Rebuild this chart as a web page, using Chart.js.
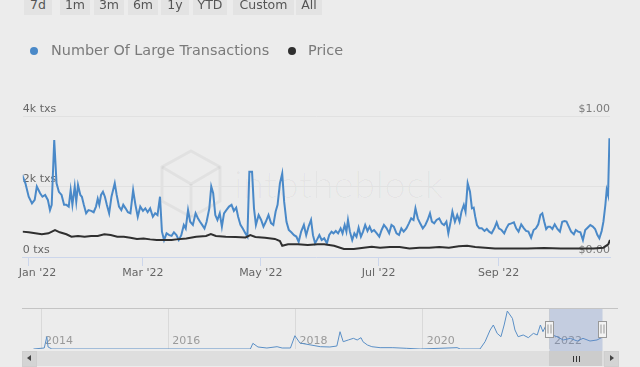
<!DOCTYPE html>
<html>
<head>
<meta charset="utf-8">
<script src="https://cdn.jsdelivr.net/npm/chart.js@4.4.1/dist/chart.umd.min.js"></script>
<style>
html,body{margin:0;padding:0;background:#ececec;width:640px;height:367px;overflow:hidden;font-family:"DejaVu Sans",sans-serif;}
#wrap{position:relative;width:640px;height:367px;}
canvas{position:absolute;left:0;}
#main{top:0;z-index:2;}
#nav{top:300px;z-index:2;}
.btn{position:absolute;top:-6px;height:21px;line-height:21px;background:#e3e3e3;color:#555;font-size:12.5px;text-align:center;z-index:3;}
.leg{position:absolute;top:41px;height:19px;line-height:19px;font-size:14.4px;color:#7a7a7a;white-space:nowrap;z-index:3;}
.dot{position:absolute;width:8px;height:8px;border-radius:50%;top:47px;z-index:3;}
#wm{position:absolute;left:234px;top:160px;font-family:Lato,"Open Sans",sans-serif;font-weight:300;font-size:38px;color:rgba(0,0,0,0.035);z-index:1;letter-spacing:0.5px;}
#logo{position:absolute;left:155px;top:148px;z-index:1;}
.sb{position:absolute;z-index:3;}
</style>
</head>
<body>
<div id="wrap">
  <svg id="logo" width="72" height="72" viewBox="0 0 72 72">
    <g fill="none" stroke="rgba(0,0,0,0.045)" stroke-width="3">
      <polygon points="36,3 65,19 65,53 36,69 7,53 7,19"/>
      <polyline points="7,19 36,36 65,19"/>
      <line x1="36" y1="36" x2="36" y2="69"/>
    </g>
  </svg>
  <div id="wm">intotheblock</div>
  <canvas id="main" width="640" height="300"></canvas>
  <canvas id="nav" width="640" height="67"></canvas>
</div>
<script>
// ---------- data ----------
const seriesNames = ['Number Of Large Transactions', 'Price'];
const rangeButtons = ['7d', '1m', '3m', '6m', '1y', 'YTD', 'Custom', 'All'];

// days since 1 Jan 2022
const txDays = [
  -3.4,-1.7,0.0,1.7,3.1,4.2,5.9,7.1,8.5,9.9,11.0,11.9,13.2,14.4,15.6,17.0,18.3,19.5,20.7,21.7,
  22.6,23.8,24.6,25.5,26.7,27.5,28.5,29.7,30.9,32.3,33.6,34.8,35.7,36.5,37.4,38.4,39.4,40.4,41.6,42.8,
  44.5,45.5,46.7,47.9,48.9,50.1,51.3,52.6,54.0,55.2,56.4,57.7,59.1,60.3,61.5,62.8,64.2,65.4,66.6,67.9,
  68.9,70.0,71.3,72.7,73.9,75.1,76.4,77.6,78.9,80.2,81.2,82.4,83.5,84.9,86.3,87.5,88.6,89.7,90.9,92.0,
  93.4,94.4,95.4,96.5,97.6,98.8,99.9,101.0,102.2,103.6,104.9,106.1,107.3,108.3,109.5,110.7,112.1,113.1,114.1,115.5,
  116.5,117.5,118.9,120.2,121.4,122.6,124.0,125.3,126.5,127.7,128.7,129.9,131.1,132.1,133.3,134.5,135.8,137.2,138.4,139.6,
  140.9,142.3,143.5,144.7,146.0,147.0,148.1,149.2,150.3,151.5,152.8,154.2,155.4,156.6,157.6,158.8,160.0,161.3,162.3,163.4,
  164.3,165.1,166.1,167.3,168.4,169.5,170.6,171.8,172.9,174.0,175.2,176.3,177.4,178.6,180.0,181.3,182.5,183.7,185.1,186.4,
  187.6,188.8,190.2,191.5,192.7,193.9,195.3,196.6,197.8,199.0,200.0,201.2,202.4,203.8,205.1,206.3,207.5,208.5,209.7,210.9,
  212.3,213.6,214.8,216.0,217.0,218.2,219.1,220.4,221.6,222.8,223.8,225.0,225.9,227.0,228.2,229.2,230.1,230.9,231.8,233.0,
  234.3,235.7,236.9,238.1,239.4,240.8,242.0,243.1,244.5,245.9,247.0,248.2,249.6,250.9,252.1,253.3,254.7,256.1,257.2,258.4,
  259.8,261.1,262.3,263.5,264.6,265.6,266.6,267.6,268.6,269.6,270.8,272.0,273.4,274.7,275.9,277.1,278.1,279.3,280.5,281.9,
  282.9,284.1,285.3,286.6,287.8,289.0,290.4,291.7,292.9,294.1,295.1,296.3,297.2,298.2,298.9,299.6,300.3
];
const txValues = [
  2330,2090,1710,1520,1620,2000,1810,1710,1760,1620,1330,1480,3320,2090,1850,1760,1480,1480,1430,1900,
  1480,2000,1570,2040,1760,1710,1480,1240,1330,1310,1270,1430,1650,1480,1760,1850,1710,1480,1240,1710,
  2090,1760,1430,1330,1480,1380,1270,1240,1900,1480,1140,1430,1310,1380,1270,1380,1140,1240,1190,1710,
  720,480,670,620,600,700,620,480,620,910,810,1330,1000,910,1240,1100,1000,910,810,1000,
  1380,2000,1810,1190,1050,1240,860,1240,1330,1430,1480,1310,1400,1140,910,810,670,580,2420,2420,
  1380,910,1190,1050,860,1000,1190,960,910,1290,1480,2090,2370,1570,1000,770,700,620,580,430,
  720,910,620,860,1050,620,390,500,624,482,530,388,624,719,671,738,671,813,671,908,
  719,1050,719,482,671,577,832,577,719,908,738,861,719,766,671,577,766,908,813,671,
  908,861,671,624,813,719,813,955,1097,1050,1381,1097,955,813,908,1050,1239,1002,955,1050,
  1097,955,908,1002,671,1002,1286,1002,1192,1002,1286,1475,1286,2090,1853,1381,1400,1144,908,813,
  813,738,794,719,671,813,983,813,766,671,813,927,955,983,813,719,927,813,738,719,
  549,766,813,927,1192,1239,1002,794,861,861,794,927,794,719,1002,1021,1002,861,719,643,
  766,719,700,482,766,832,908,861,794,624,530,738,1002,1475,1901,1759,3367
];

const priceDays = [
  -3.4,0.0,3.4,6.8,10.2,13.6,16.1,19.5,22.1,25.5,28.9,32.3,35.7,39.1,42.4,45.8,49.2,52.6,56.0,59.4,
  62.8,66.2,69.6,73.9,76.4,81.5,86.6,91.7,94.2,96.8,101.9,107.0,112.1,114.6,117.2,122.2,127.3,129.9,131.1,134.1,
  139.2,144.3,149.4,152.8,157.9,163.0,168.1,173.2,177.4,181.7,186.8,191.8,196.9,202.0,207.1,212.3,217.3,222.4,226.7,230.9,
  236.0,241.1,249.6,258.1,266.6,275.1,283.6,292.1,297.2,299.7,300.6
];
const priceValues = [
  0.180,0.175,0.168,0.161,0.168,0.191,0.175,0.161,0.144,0.149,0.144,0.149,0.149,0.161,0.156,0.144,0.144,0.137,0.128,0.132,
  0.125,0.121,0.121,0.121,0.125,0.132,0.144,0.149,0.163,0.149,0.144,0.142,0.139,0.156,0.142,0.137,0.128,0.113,0.080,0.090,
  0.090,0.085,0.090,0.090,0.080,0.057,0.057,0.066,0.073,0.066,0.071,0.071,0.061,0.066,0.066,0.071,0.066,0.076,0.080,0.071,
  0.066,0.061,0.061,0.061,0.064,0.061,0.061,0.061,0.066,0.090,0.121
];

// navigator (whole history), decimal years
const navYears = [
  2013.88,2014.05,2014.09,2014.11,2014.17,2017.29,2017.33,2017.41,2017.55,2017.71,2017.79,2017.92,2017.99,2018.07,2018.39,2018.54,2018.65,2018.70,2018.75,2018.83,
  2018.91,2018.97,2019.03,2019.06,2019.13,2019.20,2019.33,2019.53,2019.75,2019.96,2020.54,2020.59,2020.90,2020.98,2021.06,2021.11,2021.17,2021.23,2021.28,2021.33,
  2021.41,2021.45,2021.50,2021.58,2021.66,2021.74,2021.80,2021.85,2021.89,2021.94,2022.00,2022.11,2022.21,2022.32,2022.43,2022.52,2022.63,2022.74,2022.84
];
const navValues = [
  0,134,1650,270,0,0,760,270,134,310,134,134,1780,800,310,270,400,2320,980,1210,
  1430,1210,1520,980,540,310,180,180,90,0,180,0,0,980,2550,3220,2100,1650,3220,5090,
  4110,2550,1650,1880,1520,2100,1880,3220,2320,3220,2000,1650,1210,1430,1070,1430,1070,1210,1650
];

const xTickDays = [0, 59, 120, 181, 243];
const xTickLabels = ["Jan '22", "Mar '22", "May '22", "Jul '22", "Sep '22"];
const txTickValues = [0, 2000, 4000];
const txTickLabels = ['0 txs', '2k txs', '4k txs'];
const priceTickValues = [0, 1];
const priceTickLabels = ['$0.00', '$1.00'];
const navTickYears = [2014, 2016, 2018, 2020, 2022];
const navTickLabels = ['2014', '2016', '2018', '2020', '2022'];

// ---------- styles ----------
const BLUE = '#4a89c8';
const DARK = '#2f2f2f';
Chart.defaults.font.family = "'DejaVu Sans', sans-serif";
Chart.defaults.font.size = 11;
Chart.defaults.color = '#666';

// range buttons
const btnBoxes = [[24,28],[60,30],[94,30],[128,30],[161,28],[193,34],[233,61],[296,26]];
const wrap = document.getElementById('wrap');
rangeButtons.forEach((t, i) => {
  const b = document.createElement('div');
  b.className = 'btn';
  b.style.left = btnBoxes[i][0] + 'px';
  b.style.width = btnBoxes[i][1] + 'px';
  b.textContent = t;
  wrap.appendChild(b);
});

// legend
const legPos = [[30, 51], [288, 308]];
[BLUE, DARK].forEach((c, i) => {
  const d = document.createElement('div');
  d.className = 'dot';
  d.style.left = legPos[i][0] + 'px';
  d.style.background = c;
  wrap.appendChild(d);
  const t = document.createElement('div');
  t.className = 'leg';
  t.style.left = legPos[i][1] + 'px';
  t.textContent = seriesNames[i];
  wrap.appendChild(t);
});

// ---------- main chart ----------
const mainChart = new Chart(document.getElementById('main'), {
  type: 'line',
  data: {
    datasets: [
      { label: seriesNames[0], data: txDays.map((d, i) => ({ x: d, y: txValues[i] })),
        borderColor: BLUE, backgroundColor: BLUE, borderWidth: 2, pointRadius: 0, tension: 0, yAxisID: 'y', order: 1 },
      { label: seriesNames[1], data: priceDays.map((d, i) => ({ x: d, y: priceValues[i] })),
        borderColor: DARK, backgroundColor: DARK, borderWidth: 2, pointRadius: 0, tension: 0, yAxisID: 'y2', order: 0 }
    ]
  },
  options: {
    responsive: false, animation: false,
    layout: { padding: { left: 22, right: 22, top: 116, bottom: 18.8 }, autoPadding: false },
    plugins: { legend: { display: false }, tooltip: { enabled: false } },
    scales: {
      x: {
        type: 'linear', min: -3.06, max: 300.6,
        afterBuildTicks: s => { s.ticks = xTickDays.map(v => ({ value: v })); },
        ticks: { autoSkip: false, maxRotation: 0, padding: 1, color: '#666',
          callback: (v, i) => (i === 0 ? '     ' : '') + xTickLabels[i] },
        grid: { drawOnChartArea: false, drawTicks: true, tickLength: 9, color: '#ccd6eb' },
        border: { display: true, color: '#ccd6eb' }
      },
      y: {
        position: 'left', min: 0, max: 4000,
        afterBuildTicks: s => { s.ticks = txTickValues.map(v => ({ value: v })); },
        ticks: { mirror: true, padding: 0, labelOffset: -7, color: '#666',
          callback: (v, i) => txTickLabels[i] },
        grid: { drawTicks: false, color: c => (c.tick && c.tick.value === 0) ? 'rgba(0,0,0,0)' : '#e1e1e1' },
        border: { display: false }
      },
      y2: {
        position: 'right', min: 0, max: 1,
        afterBuildTicks: s => { s.ticks = priceTickValues.map(v => ({ value: v })); },
        ticks: { mirror: true, padding: 0, labelOffset: -7, color: '#7a7a7a',
          callback: (v, i) => priceTickLabels[i] },
        grid: { display: false },
        border: { display: false }
      }
    }
  }
});

// ---------- navigator ----------
const rangeStart = 2022 + txDays[0] / 365;
const rangeEnd = 2022 + txDays[txDays.length - 1] / 365;

const navPlugin = {
  id: 'navMask',
  beforeDatasetsDraw(chart) {
    // year labels inside the navigator, drawn at the x scale's ticks
    const { ctx, chartArea } = chart;
    const xs = chart.scales.x;
    ctx.save();
    ctx.font = "11px 'DejaVu Sans', sans-serif";
    ctx.fillStyle = '#9a9a9a';
    ctx.textAlign = 'left';
    ctx.textBaseline = 'middle';
    xs.ticks.forEach((t, i) => {
      ctx.fillText(navTickLabels[i], xs.getPixelForValue(t.value) + 4, chartArea.bottom - 8);
    });
    ctx.restore();
  },
  afterDatasetsDraw(chart) {
    const { ctx, chartArea } = chart;
    const xs = chart.scales.x;
    const x1 = Math.round(xs.getPixelForValue(rangeStart)) + 0.5;
    const x2 = Math.round(xs.getPixelForValue(rangeEnd)) + 0.5;
    ctx.save();
    ctx.fillStyle = 'rgba(102,133,194,0.3)';
    ctx.fillRect(x1, chartArea.top, x2 - x1, chartArea.bottom - chartArea.top + 2);
    ctx.strokeStyle = '#c4c4c4';
    ctx.lineWidth = 1;
    ctx.beginPath();
    ctx.moveTo(chartArea.left, chartArea.top + 0.5);
    ctx.lineTo(chartArea.right, chartArea.top + 0.5);
    ctx.stroke();
    const cy = (chartArea.top + chartArea.bottom) / 2;
    [x1, x2].forEach(x => {
      ctx.fillStyle = '#f2f2f2';
      ctx.strokeStyle = '#999';
      ctx.fillRect(x - 4, Math.round(cy - 8) + 0.5, 8, 16);
      ctx.strokeRect(x - 4, Math.round(cy - 8) + 0.5, 8, 16);
      ctx.beginPath();
      ctx.moveTo(x - 1.5, cy - 4); ctx.lineTo(x - 1.5, cy + 5);
      ctx.moveTo(x + 1.5, cy - 4); ctx.lineTo(x + 1.5, cy + 5);
      ctx.stroke();
    });
    ctx.restore();
  }
};

const navChart = new Chart(document.getElementById('nav'), {
  type: 'line',
  data: {
    datasets: [{ data: navYears.map((y, i) => ({ x: y, y: navValues[i] })),
      borderColor: '#5a8fc6', borderWidth: 1, pointRadius: 0, tension: 0, fill: false }]
  },
  options: {
    responsive: false, animation: false,
    layout: { padding: { left: 22, right: 22, top: 8, bottom: 18 }, autoPadding: false },
    plugins: { legend: { display: false }, tooltip: { enabled: false } },
    scales: {
      x: {
        type: 'linear', min: 2013.70, max: 2023.07,
        afterBuildTicks: s => { s.ticks = navTickYears.map(v => ({ value: v })); },
        ticks: { display: false },
        grid: { drawTicks: false, color: '#d9d9d9' },
        border: { display: false }
      },
      y: { display: false, min: 0, max: 5500 }
    }
  },
  plugins: [navPlugin]
});

// ---------- scrollbar ----------
(function () {
  const xs = navChart.scales.x;
  const top = 351, h = 15;
  const x1 = Math.round(xs.getPixelForValue(rangeStart));
  const x2 = Math.round(xs.getPixelForValue(rangeEnd));
  function box(l, t, w, hh, bg, extra) {
    const d = document.createElement('div');
    d.className = 'sb';
    d.style.left = l + 'px'; d.style.top = t + 'px';
    d.style.width = w + 'px'; d.style.height = hh + 'px';
    d.style.background = bg;
    if (extra) Object.assign(d.style, extra);
    wrap.appendChild(d);
    return d;
  }
  box(22, top, 596, h, '#dedede');
  box(x1, top, x2 - x1, h, '#cccccc');
  for (let k = -1; k <= 1; k++) box(Math.round((x1 + x2) / 2) + k * 3, top + 5, 1, 6, '#333');
  box(22, top, 13, h - 1, '#d4d4d4', { border: '1px solid #cfcfcf' });
  box(604, top, 13, h - 1, '#d4d4d4', { border: '1px solid #cfcfcf' });
  box(27, top + 4, 0, 0, 'transparent', { borderTop: '3px solid transparent', borderBottom: '3px solid transparent', borderRight: '4px solid #444' });
  box(610, top + 4, 0, 0, 'transparent', { borderTop: '3px solid transparent', borderBottom: '3px solid transparent', borderLeft: '4px solid #444' });
})();
</script>
</body>
</html>
